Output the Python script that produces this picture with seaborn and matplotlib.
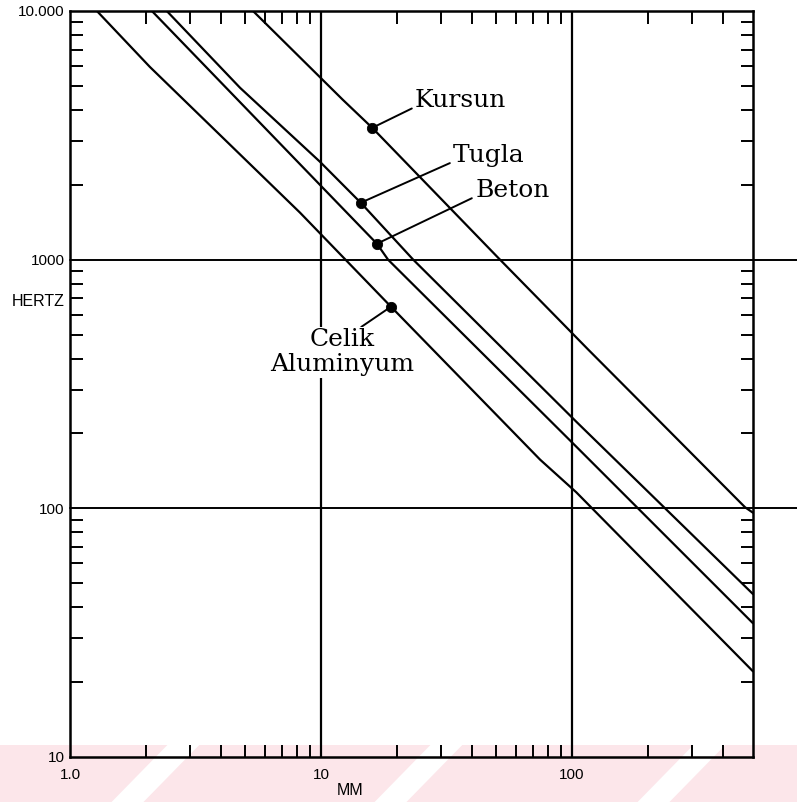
import pandas as pd
import matplotlib.pyplot as plt
import seaborn as sns
from matplotlib.patches import Rectangle, Polygon

sns.set_style("white")
plt.rcParams["font.family"] = ["Liberation Sans", "DejaVu Sans"]
plt.rcParams.update({"text.color": "black", "axes.labelcolor": "black",
                     "xtick.color": "black", "ytick.color": "black"})

# values (thickness in mm, frequency in Hz)
kursun_mm = [5.36, 12.2, 16.0, 50.3, 116, 183, 489, 526]
kursun_hz = [10000, 4400, 3390, 1028, 435, 274, 101, 96]
tugla_mm = [2.43, 4.76, 9.9, 14.4, 23.3, 104, 526]
tugla_hz = [10000, 4910, 2477, 1694, 1000, 223, 45.2]
beton_mm = [2.12, 9.9, 16.7, 18.5, 104, 526]
beton_hz = [10000, 2000, 1159, 1000, 177, 34.5]
celik_mm = [1.28, 2.08, 8.25, 19.0, 74.6, 104, 526]
celik_hz = [10000, 5960, 1545, 647, 157, 116, 22.1]

labels = ["Kursun", "Tugla", "Beton", "Celik\nAluminyum"]
marker_mm = [16.0, 14.4, 16.7, 19.0]
marker_hz = [3390, 1694, 1159, 647]
label_mm = [23.7, 33.6, 41.1, 12.1]
label_hz = [4113, 2477, 1791, 424]

x_major = [1, 10, 100]
x_major_labels = ["1.0", "10", "100"]
x_minor = [2, 3, 4, 5, 6, 7, 8, 9, 20, 30, 40, 50, 60, 70, 80, 90, 200, 300, 400]
y_major = [10, 100, 1000, 10000]
y_major_labels = ["10", "100", "1000", "10.000"]
y_minor = [m * d for d in (10, 100, 1000) for m in range(2, 10)]

df = pd.concat([
    pd.DataFrame({"mm": kursun_mm, "hz": kursun_hz, "material": "Kursun"}),
    pd.DataFrame({"mm": tugla_mm, "hz": tugla_hz, "material": "Tugla"}),
    pd.DataFrame({"mm": beton_mm, "hz": beton_hz, "material": "Beton"}),
    pd.DataFrame({"mm": celik_mm, "hz": celik_hz, "material": "Celik"}),
])
marks = pd.DataFrame({"mm": marker_mm, "hz": marker_hz})

fig = plt.figure(figsize=(7.97, 8.02), dpi=100)

# pale watermark band at the bottom of the scan
fig.add_artist(Rectangle((0, 0), 1, 57 / 802, transform=fig.transFigure,
                         facecolor="#fce6ea", edgecolor="none", zorder=0))
for x0 in [0.14, 0.47, 0.80]:
    fig.add_artist(Polygon([(x0, 0), (x0 + 0.04, 0), (x0 + 0.04 + 0.07, 57 / 802),
                            (x0 + 0.07, 57 / 802)], closed=True,
                           transform=fig.transFigure, facecolor="white",
                           edgecolor="none", zorder=0))

ax = fig.add_axes([70 / 797, 45 / 802, 683 / 797, 746 / 802])
ax.patch.set_visible(False)
ax.set_xscale("log")
ax.set_yscale("log")

sns.lineplot(data=df, x="mm", y="hz", units="material", estimator=None,
             color="black", lw=1.6, sort=False, legend=False, ax=ax)
sns.scatterplot(data=marks, x="mm", y="hz", color="black", s=55,
                edgecolor="black", zorder=5, ax=ax)

ax.set_xlim(1, 526)
ax.set_ylim(10, 10000)

# heavy grid at the decades
for v in [10, 100]:
    ax.axvline(v, color="black", lw=1.6, zorder=1)
for v in [100, 1000]:
    ax.axhline(v, xmin=0, xmax=727 / 683, color="black", lw=1.4,
               clip_on=False, zorder=1)

ax.set_xticks(x_major)
ax.set_xticklabels(x_major_labels)
ax.set_xticks(x_minor, minor=True)
ax.set_xticklabels([], minor=True)
ax.set_yticks(y_major)
ax.set_yticklabels(y_major_labels)
ax.set_yticks(y_minor, minor=True)
ax.set_yticklabels([], minor=True)

ax.tick_params(which="major", length=0, labelsize=11)
ax.tick_params(axis="x", which="major", pad=8)
ax.tick_params(axis="y", which="major", pad=4)
ax.tick_params(which="minor", direction="in", length=9, width=1.4,
               top=True, right=True, bottom=True, left=True)
for s in ax.spines.values():
    s.set_linewidth(1.8)
    s.set_color("black")

ax.set_xlabel("MM", fontsize=11.5)
ax.xaxis.set_label_coords(0.41, -0.035)
ax.set_ylabel("HERTZ", fontsize=11.5, rotation=0, ha="right", va="center")
ax.yaxis.set_label_coords(-0.008, 0.61)

serif = ["DejaVu Serif"]
for i, lab in enumerate(labels):
    if "\n" in lab:
        # white box only masks the grid line behind it, curves stay on top
        ax.annotate(lab, xy=(marker_mm[i], marker_hz[i]),
                    xytext=(label_mm[i], label_hz[i]), ha="center", va="center",
                    multialignment="center", fontsize=18, family=serif,
                    linespacing=1.1,
                    bbox=dict(facecolor="white", edgecolor="none", pad=1),
                    arrowprops=dict(arrowstyle="-", lw=1.4, color="black",
                                    relpos=(0.62, 1.0), shrinkA=0, shrinkB=0),
                    zorder=1.5)
    else:
        ax.annotate(lab, xy=(marker_mm[i], marker_hz[i]),
                    xytext=(label_mm[i], label_hz[i]), ha="left", va="baseline",
                    fontsize=18, family=serif,
                    arrowprops=dict(arrowstyle="-", lw=1.4, color="black",
                                    relpos=(0, 0.22), shrinkA=0, shrinkB=0),
                    zorder=6)

plt.savefig("out.png", dpi=100)
